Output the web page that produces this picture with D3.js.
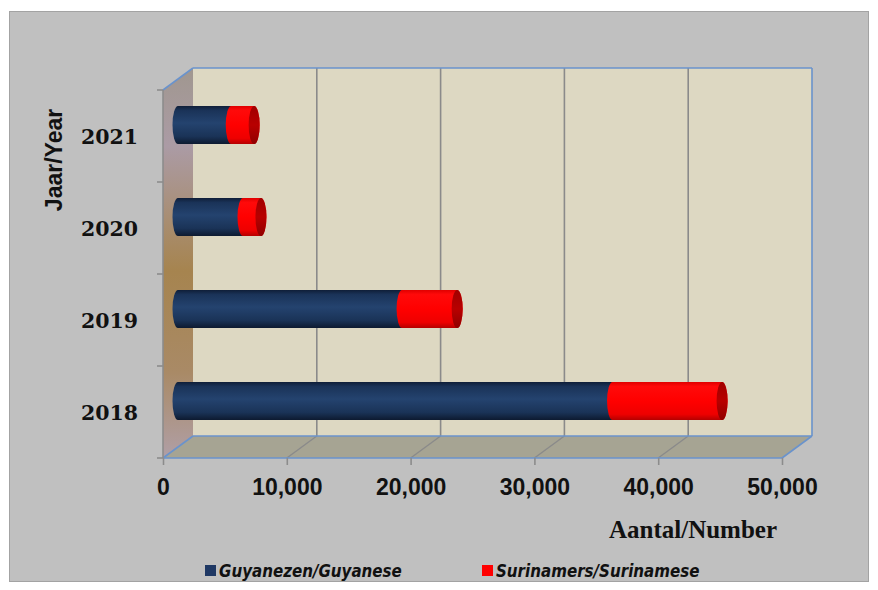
<!DOCTYPE html>
<html><head><meta charset="utf-8">
<script src="https://cdn.jsdelivr.net/npm/d3@7"></script>
<style>body{margin:0;background:#fff}</style>
</head><body><svg id="c" width="878" height="590"></svg>
<script>
const years = ["2018","2019","2020","2021"];
const guyanese = [35100, 18100, 5250, 4300];
const surinamese = [8850, 4450, 1450, 1850];
const xTicks = [0,10000,20000,30000,40000,50000];
const seriesNames = ["Guyanezen/Guyanese","Surinamers/Surinamese"];
const seriesColors = ["#1f3864","#ff0000"];

const svg = d3.select("#c");
const F = {left:163, right:782, top:90, bottom:458};
const D = {dx:30, dy:-22};
const x = d3.scaleLinear().domain([0,50000]).range([F.left, F.right]);
const y = d3.scaleBand().domain(years).range([F.bottom, F.top]).paddingInner(0.587).paddingOuter(0.2935);
const step = y.step(), bw = y.bandwidth();

// background
svg.append("rect").attr("x",9.5).attr("y",11.5).attr("width",859).attr("height",570)
  .attr("fill","#c0c0c0").attr("stroke","#a3a3a3").attr("stroke-width",1);

const defs = svg.append("defs");
function vgrad(id, stops){
  const g = defs.append("linearGradient").attr("id",id).attr("x1",0).attr("y1",0).attr("x2",0).attr("y2",1);
  stops.forEach(s=>g.append("stop").attr("offset",s[0]).attr("stop-color",s[1]));
}
vgrad("lw",[[0,"#a0978f"],[0.2,"#ab9ba5"],[0.52,"#a6844f"],[0.78,"#a98a66"],[1,"#b09fa6"]]);
vgrad("blue",[[0,"#0f1e38"],[0.12,"#1a3358"],[0.45,"#24436f"],[0.8,"#1a3357"],[1,"#0d1a30"]]);
vgrad("red",[[0,"#e00000"],[0.12,"#ff0a0a"],[0.5,"#ff0000"],[0.85,"#ee0000"],[1,"#b50000"]]);
vgrad("cap",[[0,"#a00000"],[0.5,"#b80000"],[1,"#900000"]]);

const g = svg.append("g");
// back wall
g.append("rect").attr("x",F.left+D.dx).attr("y",F.top+D.dy).attr("width",F.right-F.left).attr("height",F.bottom-F.top)
  .attr("fill","#ddd8c2");
// back grid lines
g.selectAll(".bg").data(xTicks.slice(1,-1)).join("line")
  .attr("x1",d=>x(d)+D.dx).attr("x2",d=>x(d)+D.dx).attr("y1",F.top+D.dy).attr("y2",F.bottom+D.dy)
  .attr("stroke","#8a8a8a").attr("stroke-width",1.6);
// floor
g.append("polygon").attr("points",[[F.left,F.bottom],[F.right,F.bottom],[F.right+D.dx,F.bottom+D.dy],[F.left+D.dx,F.bottom+D.dy]].join(" "))
  .attr("fill","#a6a493");
g.selectAll(".fg").data(xTicks.slice(1,-1)).join("line")
  .attr("x1",d=>x(d)).attr("x2",d=>x(d)+D.dx).attr("y1",F.bottom).attr("y2",F.bottom+D.dy)
  .attr("stroke","#8a8a8a").attr("stroke-width",1.4);
// left wall
g.append("polygon").attr("points",[[F.left,F.top],[F.left+D.dx,F.top+D.dy],[F.left+D.dx,F.bottom+D.dy],[F.left,F.bottom]].join(" "))
  .attr("fill","url(#lw)");
// outlines
const blueLine = "#6a93cc";
[[[F.left,F.top],[F.left+D.dx,F.top+D.dy]],
 [[F.left+D.dx,F.top+D.dy],[F.right+D.dx,F.top+D.dy]],
 [[F.right+D.dx,F.top+D.dy],[F.right+D.dx,F.bottom+D.dy]],
 [[F.right,F.bottom],[F.right+D.dx,F.bottom+D.dy]],
 [[F.left+D.dx,F.bottom+D.dy],[F.right+D.dx,F.bottom+D.dy]],
 [[F.left,F.bottom],[F.left+D.dx,F.bottom+D.dy]],
 [[F.left,F.bottom],[F.right,F.bottom]]].forEach(s=>{
  g.append("line").attr("x1",s[0][0]).attr("y1",s[0][1]).attr("x2",s[1][0]).attr("y2",s[1][1])
   .attr("stroke",blueLine).attr("stroke-width",1.6);
});

// axes lines & ticks
g.append("line").attr("x1",F.left).attr("x2",F.left).attr("y1",F.top).attr("y2",F.bottom)
  .attr("stroke","#8c8c8c").attr("stroke-width",1.6);
const yTickPos = d3.range(years.length+1).map(i=>F.bottom - i*step);
g.selectAll(".yt").data(yTickPos).join("line")
  .attr("x1",F.left-6).attr("x2",F.left).attr("y1",d=>d).attr("y2",d=>d)
  .attr("stroke","#8c8c8c").attr("stroke-width",1.6);

const xAxis = d3.axisBottom(x).tickValues(xTicks).tickSize(7).tickPadding(14)
  .tickFormat(d3.format(","));
const xa = g.append("g").attr("transform",`translate(0,${F.bottom})`).call(xAxis);
xa.select(".domain").remove();
xa.selectAll(".tick line").attr("stroke","#8c8c8c").attr("stroke-width",1.6);
xa.selectAll(".tick text").attr("font-family","Liberation Sans, Arial, sans-serif")
  .attr("font-weight","bold").attr("font-size",23).attr("fill","#111");

// y labels
g.selectAll(".yl").data(years).join("text")
  .attr("x",138).attr("y",d=>y(d)+bw/2+7.5).attr("text-anchor","end")
  .attr("font-family","DejaVu Serif, serif").attr("font-weight","bold").attr("font-size",20.5)
  .attr("fill","#111").text(d=>d);

// bars (cylinders)
const rx = 5.5, ry = bw/2;
function seg(x0,x1,cy){
  return `M${x0},${cy-ry} L${x1},${cy-ry} A${rx},${ry} 0 0 1 ${x1},${cy+ry} L${x0},${cy+ry} A${rx},${ry} 0 0 1 ${x0},${cy-ry} Z`;
}
const bars = years.map((yr,i)=>({yr, g:guyanese[i], s:surinamese[i]}));
const bg = g.append("g");
bars.forEach(b=>{
  const cy = y(b.yr)+bw/2 + D.dy/2;
  const x0 = x(0)+D.dx/2, x1 = x(b.g)+D.dx/2, x2 = x(b.g+b.s)+D.dx/2;
  bg.append("path").attr("d",seg(x0,x1,cy)).attr("fill","url(#blue)");
  bg.append("path").attr("d",seg(x1,x2,cy)).attr("fill","url(#red)");
  bg.append("ellipse").attr("cx",x2).attr("cy",cy).attr("rx",rx).attr("ry",ry).attr("fill","url(#cap)");
});

// axis titles
svg.append("text").attr("transform","translate(62,160) rotate(-90)").attr("text-anchor","middle")
  .attr("font-family","Liberation Sans, Arial, sans-serif").attr("font-weight","bold").attr("font-size",23)
  .attr("fill","#111").text("Jaar/Year");
svg.append("text").attr("x",693).attr("y",538).attr("text-anchor","middle")
  .attr("font-family","Liberation Serif, Times New Roman, serif").attr("font-weight","bold").attr("font-size",25)
  .attr("fill","#111").text("Aantal/Number");

// legend
const legX = [205, 482];
const lg = svg.selectAll(".lg").data(seriesNames).join("g")
  .attr("transform",(d,i)=>`translate(${legX[i]},565)`);
lg.append("rect").attr("width",11).attr("height",11).attr("fill",(d,i)=>seriesColors[i]);
lg.append("text").attr("x",14).attr("y",12).attr("font-family","DejaVu Sans Condensed, DejaVu Sans, sans-serif")
  .attr("font-stretch","condensed").attr("font-style","italic").attr("font-weight","bold").attr("font-size",16.8)
  .attr("fill","#111").text(d=>d);
</script></body></html>
